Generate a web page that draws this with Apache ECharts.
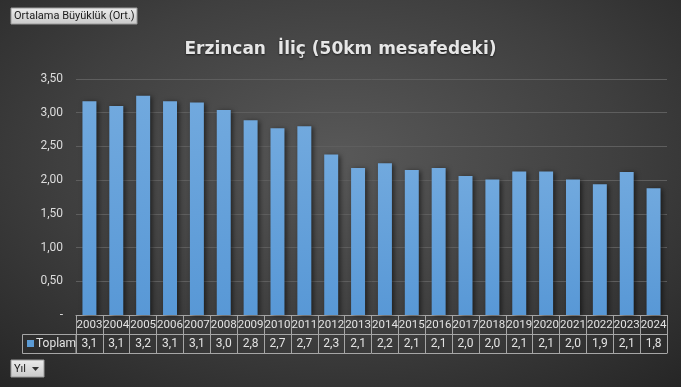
<!DOCTYPE html>
<html><head><meta charset="utf-8">
<script src="https://cdn.jsdelivr.net/npm/echarts@6/dist/echarts.min.js"></script>
<style>
html,body{margin:0;padding:0;}
body{width:681px;height:387px;background:radial-gradient(ellipse 75% 80% at 50% 40%, #585858 0%, #3f3f3f 55%, #262626 100%);}
#c{width:681px;height:387px;}
</style></head><body><div id="c"></div>
<script>
const years = ['2003','2004','2005','2006','2007','2008','2009','2010','2011','2012','2013','2014','2015','2016','2017','2018','2019','2020','2021','2022','2023','2024'];
const values = [3.17,3.10,3.25,3.17,3.15,3.04,2.89,2.77,2.80,2.38,2.18,2.25,2.15,2.18,2.06,2.01,2.13,2.13,2.01,1.94,2.12,1.88];
const tableLabels = ['3,1','3,1','3,2','3,1','3,1','3,0','2,8','2,7','2,7','2,3','2,1','2,2','2,1','2,1','2,0','2,0','2,1','2,1','2,0','1,9','2,1','1,8'];
const seriesName = 'Toplam';
const titleText = 'Erzincan  İliç (50km mesafedeki)';

const chart = echarts.init(document.getElementById('c'));
const lineCol = '#a6a6a6';
const txtCol = '#e3e3e3';
const font = 'Roboto, sans-serif';
chart.setOption({
  backgroundColor: 'transparent',
  animation: false,
  title: {
    text: titleText, left: 'center', top: 36,
    textStyle: {color: '#e6e6e6', fontSize: 17, fontWeight: 'bold', fontFamily: '"DejaVu Sans", sans-serif',
      textShadowColor: 'rgba(0,0,0,0.6)', textShadowBlur: 2, textShadowOffsetY: 1}
  },
  grid: {left: 76, right: 14, top: 79, bottom: 72},
  yAxis: {
    type: 'value', min: 0, max: 3.5, interval: 0.5,
    axisLine: {show: false}, axisTick: {show: false},
    splitLine: {lineStyle: {color: '#5e5e5e', width: 1}},
    axisLabel: {color: '#dcdcdc', fontSize: 12, fontFamily: font, margin: 13,
      formatter: v => v === 0 ? '-' : v.toFixed(2).replace('.', ',')}
  },
  xAxis: [
    {type: 'category', data: years, position: 'bottom',
      axisLine: {show: true, lineStyle: {color: lineCol}},
      axisTick: {show: true, length: 38, interval: 0, lineStyle: {color: lineCol}},
      axisLabel: {color: txtCol, fontSize: 11.5, fontFamily: font, margin: 4, interval: 0}},
    {type: 'category', data: years, position: 'bottom', offset: 19,
      axisLine: {show: true, lineStyle: {color: lineCol}},
      axisTick: {show: false},
      axisLabel: {color: txtCol, fontSize: 12, fontFamily: font, margin: 4, interval: 0,
        formatter: (v, i) => tableLabels[i]}},
    {type: 'category', data: years, position: 'bottom', offset: 38,
      axisLine: {show: true, lineStyle: {color: lineCol}},
      axisTick: {show: false}, axisLabel: {show: false}}
  ],
  series: [{
    name: seriesName, type: 'bar', data: values, barWidth: '52%', xAxisIndex: 0,
    itemStyle: {
      color: new echarts.graphic.LinearGradient(0, 0, 0, 1, [
        {offset: 0, color: '#71a9de'}, {offset: 1, color: '#5898d6'}]),
      shadowColor: 'rgba(0,0,0,0.55)', shadowBlur: 5, shadowOffsetX: 2, shadowOffsetY: 1
    }
  }],
  graphic: [
    {type: 'rect', shape: {x: 22.5, y: 334.5, width: 53.5, height: 19}, style: {fill: 'none', stroke: lineCol, lineWidth: 1}},
    {type: 'rect', shape: {x: 27, y: 340, width: 7, height: 7}, style: {fill: '#5b9bd5'}},
    {type: 'text', x: 36, y: 344, style: {text: seriesName, fill: txtCol, fontSize: 12, fontFamily: font, verticalAlign: 'middle'}},
    {type: 'rect', shape: {x: 11, y: 8, width: 126, height: 16},
      style: {fill: new echarts.graphic.LinearGradient(0, 0, 0, 1, [{offset: 0, color: '#ececec'}, {offset: 1, color: '#c9c9c9'}]), stroke: '#9a9a9a', lineWidth: 1}},
    {type: 'text', x: 14, y: 16.5, style: {text: 'Ortalama Büyüklük (Ort.)', fill: '#1a1a1a', fontSize: 11, fontFamily: font, verticalAlign: 'middle'}},
    {type: 'rect', shape: {x: 11, y: 360, width: 33, height: 17},
      style: {fill: new echarts.graphic.LinearGradient(0, 0, 0, 1, [{offset: 0, color: '#ececec'}, {offset: 1, color: '#c9c9c9'}]), stroke: '#9a9a9a', lineWidth: 1}},
    {type: 'text', x: 14, y: 369, style: {text: 'Yıl', fill: '#1a1a1a', fontSize: 11, fontFamily: font, verticalAlign: 'middle'}},
    {type: 'polygon', shape: {points: [[32, 367], [39, 367], [35.5, 371]]}, style: {fill: '#333'}}
  ]
});
</script></body></html>
